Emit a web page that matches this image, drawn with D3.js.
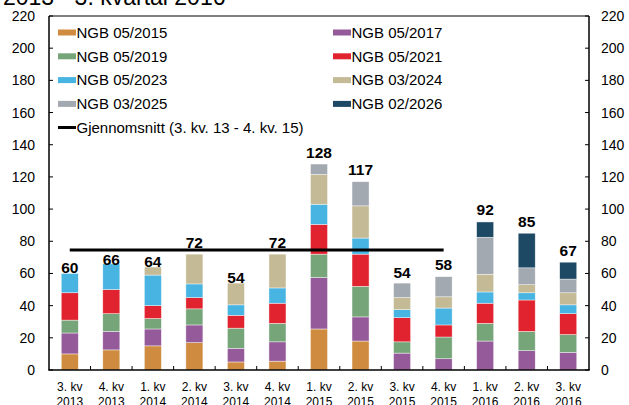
<!DOCTYPE html>
<html><head><meta charset="utf-8">
<script src="https://cdn.jsdelivr.net/npm/d3@7"></script>
<style>body{margin:0;background:#fff}svg{display:block;font-family:"Liberation Sans",Arial,sans-serif}</style>
</head><body>
<svg id="c" width="629" height="405"></svg>
<script>
const categories = [["3. kv","2013"],["4. kv","2013"],["1. kv","2014"],["2. kv","2014"],["3. kv","2014"],["4. kv","2014"],["1. kv","2015"],["2. kv","2015"],["3. kv","2015"],["4. kv","2015"],["1. kv","2016"],["2. kv","2016"],["3. kv","2016"]];
const seriesNames = ["NGB 05/2015","NGB 05/2017","NGB 05/2019","NGB 05/2021","NGB 05/2023","NGB 03/2024","NGB 03/2025","NGB 02/2026"];
const ngb0515 = [10,12.5,15,17,5,5.5,25.5,18,0,0,0,0,0];
const ngb0517 = [13,11.5,10.5,11,8.5,12,32,15,10.5,7,18,12,11];
const ngb0519 = [8,11,6.5,10,12.5,11.5,14.5,19,7,13.5,11,12,11];
const ngb0521 = [17,15,8,7,8,12.5,18.5,20,15,7.5,12.5,19.5,13];
const ngb0523 = [12,16,19,8.5,6.5,9.5,12.5,10,5,10.5,7,4.5,5.5];
const ngb0324 = [0,0,5,18.5,13.5,21,18.5,20,7.5,7,11,5,7.5];
const ngb0325 = [0,0,0,0,0,0,6.5,15,9,12.5,23,10.5,8.5];
const ngb0226 = [0,0,0,0,0,0,0,0,0,0,9.5,21.5,10.5];
const totals = [60,66,64,72,54,72,128,117,54,58,92,85,67];
const yTicks = [0,20,40,60,80,100,120,140,160,180,200,220];
const avgLabel = "Gjennomsnitt (3. kv. 13 - 4. kv. 15)";
const avgRange = [0,9]; // category indices covered by the average
const colors = ["#CF8C40","#955A9A","#76A57A","#E0232F","#48B4E2","#C5BA96","#A3A9B0","#1D4964"];
const labelGap = [6,4,6,12,6,12,12,12,11,12,12,12,12];

const series = [ngb0515,ngb0517,ngb0519,ngb0521,ngb0523,ngb0324,ngb0325,ngb0226];
const rows = categories.map((c,i)=>{const o={i};seriesNames.forEach((s,k)=>o[s]=series[k][i]);return o;});
const stack = d3.stack().keys(seriesNames)(rows);

const svg = d3.select("#c");
const L=49,R=589,T=16,B=370;
const x = d3.scaleBand().domain(d3.range(categories.length)).range([L,R]).paddingInner(0.59).paddingOuter(0.295);
const y = d3.scaleLinear().domain([0,220]).range([B,T]);

// title (clipped at top, as in the source)
svg.append("text").attr("x",3).attr("y",4.5).attr("font-size",23).attr("fill","#000").text("2013 - 3. kvartal 2016");

// bars
svg.append("g").selectAll("g").data(stack).join("g").attr("fill",(d,k)=>colors[k])
 .selectAll("rect").data(d=>d).join("rect")
 .attr("x",(d,i)=>x(i)).attr("width",x.bandwidth())
 .attr("y",d=>y(d[1])).attr("height",d=>Math.max(0,y(d[0])-y(d[1])))
 .attr("stroke","#fff").attr("stroke-width",0.6).attr("stroke-opacity",0.7)
 .attr("display",d=>d[1]-d[0]>0?null:"none");

// average line
const avg = d3.mean(totals.slice(avgRange[0],avgRange[1]+1));
svg.append("line").attr("x1",x(avgRange[0])+x.bandwidth()/2).attr("x2",x(avgRange[1])+x.bandwidth()/2)
 .attr("y1",y(avg)).attr("y2",y(avg)).attr("stroke","#000").attr("stroke-width",3);

// totals
svg.append("g").selectAll("text").data(totals).join("text")
 .attr("x",(d,i)=>x(i)+x.bandwidth()/2).attr("y",(d,i)=>y(d)-labelGap[i]+5.5)
 .attr("text-anchor","middle").attr("font-size",15.5).attr("font-weight","bold").text(d=>d);

// frame axes
const ax = svg.append("g").attr("stroke","#000");
ax.append("line").attr("x1",L).attr("x2",L).attr("y1",T).attr("y2",B).attr("stroke-width",1.5);
ax.append("line").attr("x1",R).attr("x2",R).attr("y1",T).attr("y2",B).attr("stroke-width",1.5);
ax.append("line").attr("x1",L).attr("x2",R).attr("y1",T).attr("y2",T).attr("stroke-width",1);
ax.append("line").attr("x1",L-0.75).attr("x2",R+0.75).attr("y1",B).attr("y2",B).attr("stroke-width",1.5);
yTicks.forEach(t=>{
  ax.append("line").attr("x1",L).attr("x2",L+4).attr("y1",y(t)).attr("y2",y(t));
  ax.append("line").attr("x1",R-4).attr("x2",R).attr("y1",y(t)).attr("y2",y(t));
});
d3.range(1,categories.length).forEach(i=>{
  const xb = L + i*x.step();
  ax.append("line").attr("x1",xb).attr("x2",xb).attr("y1",B).attr("y2",B-4);
});
svg.append("g").selectAll("text").data(yTicks).join("text").attr("x",35).attr("y",t=>y(t)+5)
 .attr("text-anchor","end").attr("font-size",14).text(t=>t);
svg.append("g").selectAll("text").data(yTicks).join("text").attr("x",601).attr("y",t=>y(t)+5)
 .attr("text-anchor","start").attr("font-size",14).text(t=>t);

// x labels
const xl = svg.append("g").selectAll("text").data(categories).join("text")
 .attr("text-anchor","middle").attr("font-size",12)
 .attr("transform",(d,i)=>`translate(${x(i)+x.bandwidth()/2},0)`);
xl.append("tspan").attr("x",0).attr("y",391).text(d=>d[0]);
xl.append("tspan").attr("x",0).attr("y",406).text(d=>d[1]);

// legend
const lg = svg.append("g");
seriesNames.forEach((s,k)=>{
  const col = k%2, row = Math.floor(k/2);
  const sx = col===0?58:333, sy = 32.5 + row*23.8;
  lg.append("rect").attr("x",sx).attr("y",sy-3).attr("width",18).attr("height",6).attr("fill",colors[k]);
  lg.append("text").attr("x",sx+18.5).attr("y",sy+5.2).attr("font-size",15).text(s);
});
lg.append("line").attr("x1",58).attr("x2",76).attr("y1",127.5).attr("y2",127.5).attr("stroke","#000").attr("stroke-width",3);
lg.append("text").attr("x",76.5).attr("y",127.5+5.2).attr("font-size",15).text(avgLabel);
</script>
</body></html>
